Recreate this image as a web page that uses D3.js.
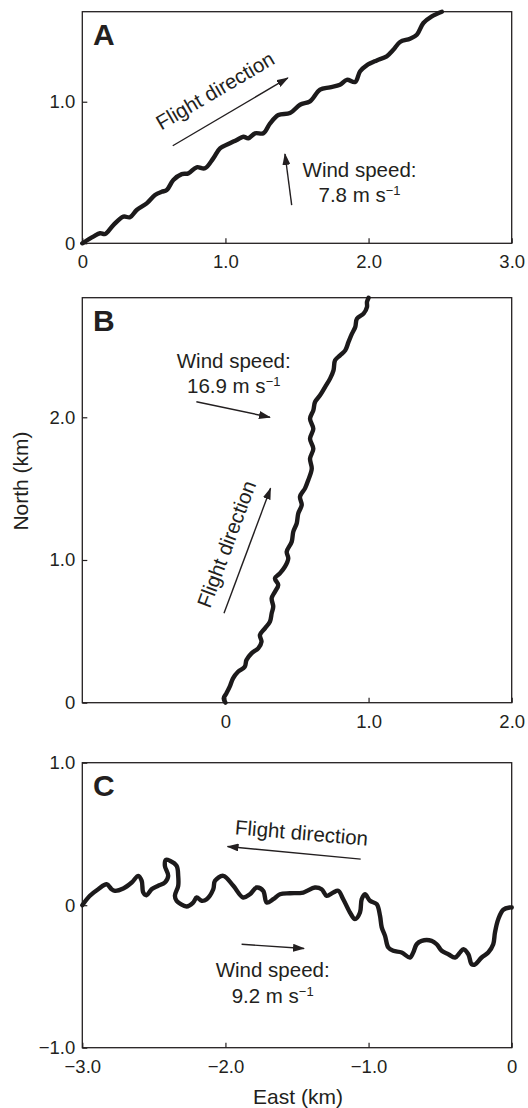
<!DOCTYPE html>
<html>
<head>
<meta charset="utf-8">
<script src="https://cdn.jsdelivr.net/npm/d3@7"></script>
<style>
  html, body { margin: 0; padding: 0; background: #fff; }
  svg { display: block; }
</style>
</head>
<body>
<script>
// ---------------- DATA ----------------
// Panel A track (East km, North km)
const trackA_east  = [0,0.077,0.124,0.159,0.217,0.287,0.333,0.380,0.450,0.508,0.555,0.590,0.636,0.695,0.741,0.799,0.857,0.915,0.962,1.020,1.079,1.125,1.160,1.207,1.265,1.312,1.370,1.451,1.521,1.591,1.661,1.730,1.800,1.848,1.906,1.941,1.987,2.057,2.127,2.173,2.220,2.290,2.337,2.383,2.442,2.512];
const trackA_north = [0,0.047,0.071,0.066,0.129,0.188,0.184,0.235,0.282,0.341,0.364,0.376,0.447,0.489,0.494,0.537,0.530,0.600,0.671,0.701,0.730,0.753,0.742,0.777,0.777,0.847,0.906,0.920,0.979,1.003,1.085,1.102,1.120,1.155,1.139,1.215,1.257,1.292,1.321,1.367,1.422,1.445,1.473,1.556,1.603,1.636];

// Panel B track
const trackB_east  = [0,-0.012,0.007,0.030,0.053,0.088,0.135,0.147,0.182,0.229,0.252,0.241,0.276,0.311,0.323,0.334,0.323,0.346,0.369,0.346,0.381,0.416,0.439,0.428,0.463,0.474,0.498,0.509,0.533,0.521,0.556,0.579,0.603,0.591,0.614,0.591,0.614,0.591,0.614,0.626,0.661,0.696,0.731,0.755,0.766,0.801,0.837,0.860,0.884,0.907,0.919,0.965,0.989,0.989,1.000];
const trackB_north = [0,0.031,0.066,0.112,0.171,0.217,0.252,0.299,0.346,0.381,0.427,0.474,0.521,0.568,0.626,0.673,0.732,0.778,0.825,0.872,0.907,0.953,1.012,1.058,1.128,1.198,1.257,1.327,1.385,1.444,1.502,1.561,1.640,1.710,1.780,1.850,1.920,1.990,2.049,2.107,2.154,2.212,2.271,2.329,2.399,2.434,2.469,2.528,2.586,2.633,2.691,2.726,2.773,2.808,2.838];

// Panel C track
const trackC_east  = [-3.000,-2.947,-2.889,-2.830,-2.795,-2.772,-2.714,-2.655,-2.609,-2.585,-2.574,-2.551,-2.516,-2.470,-2.423,-2.400,-2.423,-2.416,-2.388,-2.341,-2.330,-2.330,-2.353,-2.341,-2.271,-2.225,-2.201,-2.166,-2.131,-2.085,-2.073,-2.015,-1.945,-1.876,-1.829,-1.782,-1.736,-1.712,-1.666,-1.619,-1.549,-1.456,-1.375,-1.328,-1.293,-1.247,-1.212,-1.177,-1.130,-1.095,-1.060,-1.048,-1.025,-0.990,-0.943,-0.920,-0.908,-0.885,-0.862,-0.827,-0.769,-0.711,-0.688,-0.664,-0.629,-0.559,-0.524,-0.489,-0.443,-0.396,-0.361,-0.338,-0.303,-0.280,-0.256,-0.210,-0.164,-0.129,-0.117,-0.094,-0.059,-0.012,0];
const trackC_north = [0,0.066,0.112,0.147,0.112,0.101,0.117,0.159,0.206,0.171,0.089,0.070,0.112,0.136,0.159,0.206,0.276,0.319,0.312,0.276,0.206,0.136,0.066,0.031,-0.009,0.019,0.054,0.031,0.042,0.112,0.171,0.206,0.136,0.054,0.077,0.124,0.101,0.019,0.042,0.077,0.084,0.089,0.124,0.112,0.066,0.089,0.101,0.042,-0.051,-0.098,-0.051,0.042,0.077,0.031,0.007,-0.074,-0.156,-0.215,-0.297,-0.320,-0.332,-0.367,-0.332,-0.274,-0.250,-0.250,-0.274,-0.320,-0.344,-0.367,-0.332,-0.309,-0.344,-0.414,-0.416,-0.367,-0.332,-0.274,-0.192,-0.098,-0.032,-0.016,-0.016];

// Axis ticks and labels
const ticksA_x = [0, 1, 2, 3];      const labelsA_x = ["0", "1.0", "2.0", "3.0"];
const ticksA_y = [0, 1];            const labelsA_y = ["0", "1.0"];
const ticksB_x = [0, 1, 2];         const labelsB_x = ["0", "1.0", "2.0"];
const ticksB_y = [0, 1, 2];         const labelsB_y = ["0", "1.0", "2.0"];
const ticksC_x = [-3, -2, -1, 0];   const labelsC_x = ["\u22123.0", "\u22122.0", "\u22121.0", "0"];
const ticksC_y = [-1, 0, 1];        const labelsC_y = ["\u22121.0", "0", "1.0"];

// Axis domains
const domainA_x = [0, 3];   const domainA_y = [0, 1.636];
const domainB_x = [-1, 2];  const domainB_y = [0, 2.838];
const domainC_x = [-3, 0];  const domainC_y = [-1, 1];

// Annotations (data units of each panel)
const windSpeeds = ["7.8", "16.9", "9.2"];
const flightArrowA = [[0.632, 0.689], [1.436, 1.168]];
const windArrowA   = [[1.463, 0.270], [1.416, 0.631]];
const flightArrowB = [[-0.010, 0.626], [0.315, 1.502]];
const windArrowB   = [[-0.203, 2.109], [0.311, 2.000]];
const flightArrowC = [[-1.055, 0.323], [-1.985, 0.412]];
const windArrowC   = [[-1.887, -0.274], [-1.451, -0.304]];

// ---------------- DRAW ----------------
const W = 528, H = 1108;
const FONT = "'Liberation Sans', Arial, Helvetica, sans-serif";
const INK = "#231f20";
const left = 82.3, right = 511.7;

const svg = d3.select("body").append("svg")
  .attr("width", W).attr("height", H)
  .attr("font-family", FONT);

const defs = svg.append("defs");
defs.append("marker")
  .attr("id", "ah").attr("viewBox", "0 0 12 8")
  .attr("refX", 11).attr("refY", 4)
  .attr("markerUnits", "userSpaceOnUse")
  .attr("markerWidth", 12).attr("markerHeight", 8)
  .attr("orient", "auto")
  .append("path").attr("d", "M0,0 L12,4 L0,8 Z").attr("fill", INK);

const panels = [
  { letter: "A", top: 11.7, bottom: 243.3, dx: domainA_x, dy: domainA_y,
    ex: trackA_east, ny: trackA_north,
    tx: ticksA_x, lx: labelsA_x, ty: ticksA_y, ly: labelsA_y },
  { letter: "B", top: 297.7, bottom: 702.7, dx: domainB_x, dy: domainB_y,
    ex: trackB_east, ny: trackB_north,
    tx: ticksB_x, lx: labelsB_x, ty: ticksB_y, ly: labelsB_y },
  { letter: "C", top: 762.7, bottom: 1047.7, dx: domainC_x, dy: domainC_y,
    ex: trackC_east, ny: trackC_north,
    tx: ticksC_x, lx: labelsC_x, ty: ticksC_y, ly: labelsC_y },
];

panels.forEach(p => {
  p.x = d3.scaleLinear().domain(p.dx).range([left, right]);
  p.y = d3.scaleLinear().domain(p.dy).range([p.bottom, p.top]);
  const g = svg.append("g");
  p.g = g;

  // frame
  g.append("rect")
    .attr("x", left).attr("y", p.top)
    .attr("width", right - left).attr("height", p.bottom - p.top)
    .attr("fill", "none").attr("stroke", INK).attr("stroke-width", 1.3);

  // axes
  const ax = g.append("g").attr("transform", `translate(0,${p.bottom})`)
    .call(d3.axisBottom(p.x).tickValues(p.tx)
      .tickFormat((d, i) => p.lx[i]).tickSizeInner(-5).tickSizeOuter(0).tickPadding(12));
  const ay = g.append("g").attr("transform", `translate(${left},0)`)
    .call(d3.axisLeft(p.y).tickValues(p.ty)
      .tickFormat((d, i) => p.ly[i]).tickSizeInner(-5).tickSizeOuter(0).tickPadding(7));
  [ax, ay].forEach(a => {
    a.select(".domain").remove();
    a.selectAll(".tick line").attr("stroke", INK).attr("stroke-width", 1.2);
    a.selectAll(".tick text").attr("fill", INK).attr("font-size", 18.5).attr("font-family", FONT);
  });

  // track
  const line = d3.line()
    .x((d, i) => p.x(p.ex[i]))
    .y((d, i) => p.y(p.ny[i]))
    .curve(d3.curveCatmullRom.alpha(0.5));
  g.append("path")
    .attr("d", line(p.ex))
    .attr("fill", "none").attr("stroke", "#1c1a1b")
    .attr("stroke-width", 4.4)
    .attr("stroke-linejoin", "round").attr("stroke-linecap", "round");

  // panel letter
  g.append("text")
    .attr("x", 93).attr("y", p.top + 33.5)
    .attr("font-size", 30).attr("font-weight", "bold").attr("fill", INK)
    .text(p.letter);
});

function arrow(p, pts) {
  p.g.append("line")
    .attr("x1", p.x(pts[0][0])).attr("y1", p.y(pts[0][1]))
    .attr("x2", p.x(pts[1][0])).attr("y2", p.y(pts[1][1]))
    .attr("stroke", INK).attr("stroke-width", 1.4)
    .attr("marker-end", "url(#ah)");
}

function windLabel(p, cx, y1, y2, speed) {
  p.g.append("text")
    .attr("x", p.x(cx)).attr("y", p.y(y1))
    .attr("text-anchor", "middle").attr("font-size", 20.5).attr("fill", INK)
    .text("Wind speed:");
  const t2 = p.g.append("text")
    .attr("x", p.x(cx)).attr("y", p.y(y2))
    .attr("text-anchor", "middle").attr("font-size", 20.5).attr("fill", INK);
  t2.append("tspan").text(speed + " m s");
  t2.append("tspan").attr("dy", "-0.55em").attr("font-size", 13).text("\u22121");
}

function flightLabel(p, cx, cy, angle, dy) {
  const px = p.x(cx), py = p.y(cy);
  p.g.append("text")
    .attr("transform", `translate(${px},${py}) rotate(${angle})`)
    .attr("text-anchor", "middle").attr("dy", dy)
    .attr("font-size", 20.5).attr("fill", INK)
    .text("Flight direction");
}

// Panel A
arrow(panels[0], flightArrowA);
arrow(panels[0], windArrowA);
flightLabel(panels[0], 0.953, 1.035, -30.4, "0");
windLabel(panels[0], 1.937, 0.470, 0.294, windSpeeds[0]);

// Panel B
arrow(panels[1], flightArrowB);
arrow(panels[1], windArrowB);
flightLabel(panels[1], 0.007, 1.112, -69.6, "0.35em");
windLabel(panels[1], 0.058, 2.343, 2.168, windSpeeds[1]);

// Panel C
arrow(panels[2], flightArrowC);
arrow(panels[2], windArrowC);
flightLabel(panels[2], -1.472, 0.458, 4.9, "0");
windLabel(panels[2], -1.670, -0.506, -0.689, windSpeeds[2]);

// Axis titles
svg.append("text")
  .attr("transform", `translate(28,481) rotate(-90)`)
  .attr("text-anchor", "middle").attr("font-size", 21).attr("fill", INK)
  .text("North (km)");
svg.append("text")
  .attr("x", 298).attr("y", 1103.5)
  .attr("text-anchor", "middle").attr("font-size", 21).attr("fill", INK)
  .text("East (km)");
</script>
</body>
</html>
